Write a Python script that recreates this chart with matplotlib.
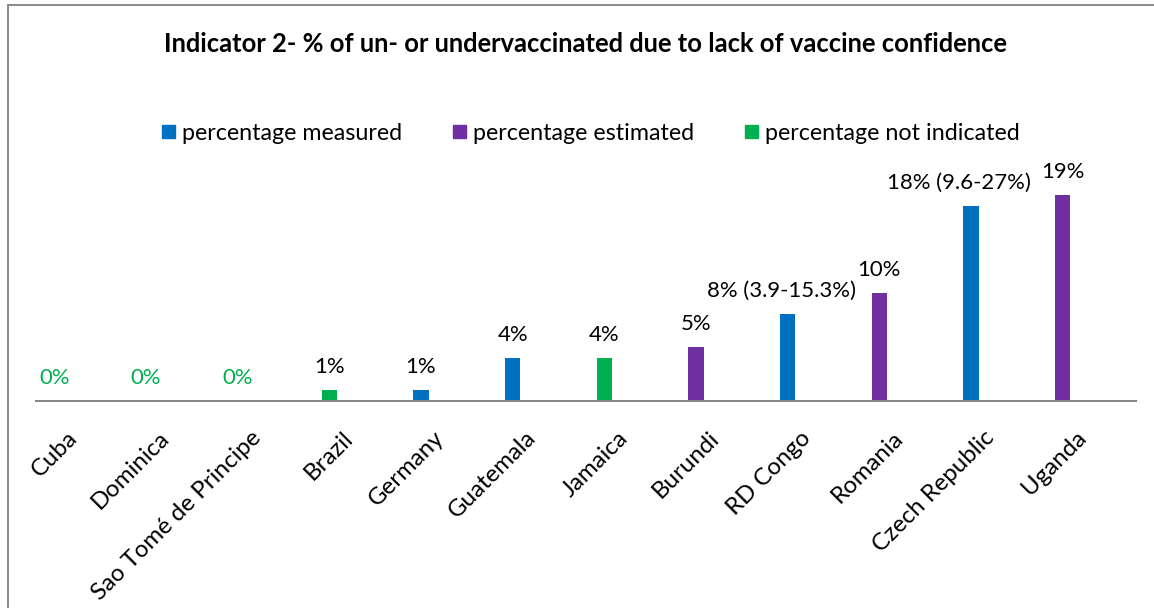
import matplotlib
matplotlib.use('Agg')
import matplotlib.pyplot as plt
from matplotlib.patches import Rectangle, Patch
from matplotlib.legend_handler import HandlerPatch

# ---------------- data ----------------
countries = ['Cuba', 'Dominica', 'Sao Tomé de Principe', 'Brazil', 'Germany',
             'Guatemala', 'Jamaica', 'Burundi', 'RD Congo', 'Romania',
             'Czech Republic', 'Uganda']
values = [0, 0, 0, 1, 1, 4, 4, 5, 8, 10, 18, 19]
status = ['not indicated', 'not indicated', 'not indicated', 'not indicated',
          'measured', 'measured', 'not indicated', 'estimated', 'measured',
          'estimated', 'measured', 'estimated']
value_labels = ['0%', '0%', '0%', '1%', '1%', '4%', '4%', '5%',
                '8% (3.9-15.3%)', '10%', '18% (9.6-27%)', '19%']
series_keys = ['measured', 'estimated', 'not indicated']
series_names = ['percentage measured', 'percentage estimated',
                'percentage not indicated']
series_colors = ['#0070C0', '#7030A0', '#00B050']
title = 'Indicator 2- % of un- or undervaccinated due to lack of vaccine confidence'

# ---------------- figure ----------------
W, H, DPI = 1154, 608, 100
PT = 72.0 / DPI  # points per pixel
fig = plt.figure(figsize=(W / DPI, H / DPI), dpi=DPI)
FONT = 'Lato'
renderer = fig.canvas.get_renderer()


def fit(text, target_px, weight='normal'):
    t = fig.text(0, 0, text, fontsize=20, family=FONT, weight=weight)
    w = t.get_window_extent(renderer).width
    t.remove()
    return 20.0 * target_px / w


fs_title = fit(title, 844, 'bold')
fs_leg = fit('percentage not indicated', 255)
fs_lab = fit('8% (3.9-15.3%)', 148)
fs_tick = fit('Czech Republic', 162)

# label nudges (pixels) as placed in the original chart
label_dx = {'RD Congo': -6, 'Czech Republic': -12}

# plot area: x 36..1136 px, baseline at y=401 px, 10.85 px per %
ax_left, ax_right, ax_bottom, ax_top = 36, 1136, 401, 172
ax = fig.add_axes([ax_left / W, (H - ax_bottom) / H,
                   (ax_right - ax_left) / W, (ax_bottom - ax_top) / H])
ax.set_xlim(-0.5, len(countries) - 0.5)
ax.set_ylim(0, (ax_bottom - ax_top) / 10.85)

offset = -0.3
bar_w = 0.164
for key, name, col in zip(series_keys, series_names, series_colors):
    xs = [i + offset for i, s in enumerate(status) if s == key]
    vs = [v for v, s in zip(values, status) if s == key]
    ax.bar(xs, vs, width=bar_w, color=col, label=name, zorder=2)

for i, (c, v, lbl) in enumerate(zip(countries, values, value_labels)):
    ax.annotate(lbl, (i + offset, v),
                xytext=(label_dx.get(c, 0) * PT, 17 * PT),
                textcoords='offset points', ha='center', va='baseline',
                fontsize=fs_lab, family=FONT,
                color='#00B050' if v == 0 else 'black')

for sp in ['top', 'left', 'right']:
    ax.spines[sp].set_visible(False)
ax.spines['bottom'].set_color('#868686')
ax.spines['bottom'].set_linewidth(2 * PT)
ax.spines['bottom'].set_zorder(3)
ax.set_yticks([])
ax.set_xticks(range(len(countries)))
ax.set_xticklabels(countries, rotation=45, ha='right', va='top',
                   fontsize=fs_tick, family=FONT)
ax.tick_params(axis='x', length=0, pad=26 * PT)

# title
fig.text((ax_left + ax_right) / 2 / W, 1 - 52 / H, title, ha='center',
         va='baseline', fontsize=fs_title, weight='bold', family=FONT)

# legend with square markers
sq = 13 * PT


def square(legend, orig_handle, xdescent, ydescent, width, height, fontsize):
    return Rectangle((-xdescent + (width - sq) / 2, -ydescent + (height - sq) / 2),
                     sq, sq)


handles = [Patch(color=c) for c in series_colors]
fs_px = fs_leg / PT
fig.legend(handles, series_names, loc='center',
           bbox_to_anchor=(590.5 / W, 1 - 133 / H), ncol=3, frameon=False,
           prop={'family': FONT, 'size': fs_leg},
           handlelength=13 / fs_px, handletextpad=7 / fs_px,
           columnspacing=51 / fs_px, borderpad=0, borderaxespad=0,
           handler_map={Patch: HandlerPatch(patch_func=square)})

# chart border
fig.patches.append(Rectangle((8 / W, -0.1), 1.2, (H - 5) / H + 0.1,
                             transform=fig.transFigure, fill=False,
                             edgecolor='#8c8c8c', linewidth=2 * PT))

fig.savefig('out.png', dpi=DPI)
